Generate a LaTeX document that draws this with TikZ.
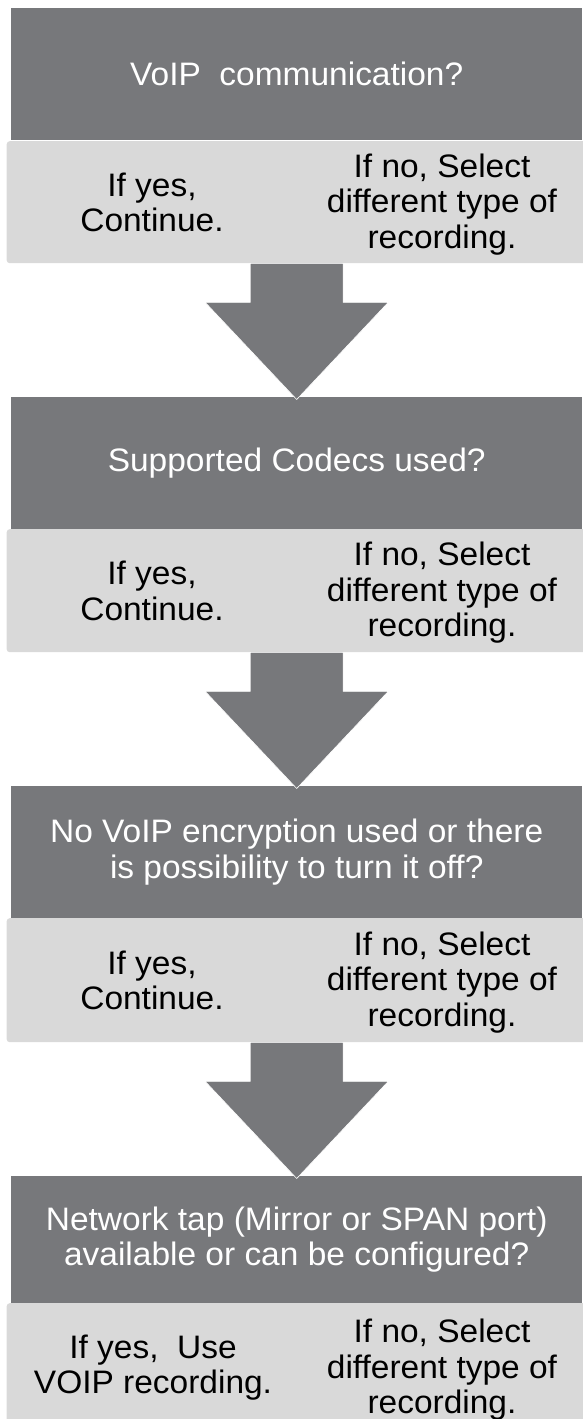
\documentclass[tikz,border=0pt]{standalone}
\usepackage{fontspec}
\setmainfont[FakeStretch=1.03]{Liberation Sans}
\usetikzlibrary{calc}
\definecolor{darkbox}{HTML}{77787B}
\definecolor{lightbox}{HTML}{D9D9D9}
\tikzset{
  question/.style={fill=darkbox, text=white, anchor=north west, minimum width=571pt,
    inner sep=0pt, align=center, font=\fontsize{32.5}{35.5}\selectfont},
  answerbar/.style={fill=lightbox, rounded corners=3pt, anchor=north west,
    minimum width=590pt, inner sep=0pt},
  answer/.style={text=black, align=center, inner sep=0pt,
    font=\fontsize{32.5}{35.5}\selectfont},
  flowarrow/.style={fill=darkbox, draw=white, line width=0.6pt, line join=miter}
}
\newcommand\flowdown[2]{%
  \filldraw[flowarrow]
    ($(#2.north |- #1.south)+(-46.5,0)$) -- ++(0,39) -- ++(-45,0)
    -- ($(#2.north)+(0,2.5)$)
    -- ($(#2.north |- #1.south)+(91.5,39)$) -- ++(-45,0)
    -- ($(#2.north |- #1.south)+(46.5,0)$) -- cycle;}
\begin{document}
\begin{tikzpicture}[x=1pt,y=-1pt]
\useasboundingbox (0,0) rectangle (582,1419);
% questions
\node[question, minimum height=132pt] (q1) at (11,8) {VoIP\ \ communication?};
\node[question, minimum height=132pt] (q2) at (11,397) {Supported Codecs used?};
\node[question, minimum height=132pt] (q3) at (11,786) {No VoIP encryption used or there\\is possibility to turn it off?};
\node[question, minimum height=127pt] (q4) at (11,1176) {Network tap (Mirror or SPAN port)\\available or can be configured?};
% answer bars
\node[answerbar, minimum height=122pt] (a1) at (6.5,141) {};
\node[answerbar, minimum height=123pt] (a2) at (6.5,529) {};
\node[answerbar, minimum height=124pt] (a3) at (6.5,918) {};
\node[answerbar, minimum height=125pt] (a4) at (6.5,1303) {};
% answers
\node[answer] (y1) at ($(a1.west)+(145.5,0)$) {If yes,\\Continue.};
\node[answer] (n1) at ($(a1.west)+(435.5,2)$) {If no, Select\\different type of\\recording.};
\node[answer] (y2) at ($(a2.west)+(145.5,0)$) {If yes,\\Continue.};
\node[answer] (n2) at ($(a2.west)+(435.5,2)$) {If no, Select\\different type of\\recording.};
\node[answer] (y3) at ($(a3.west)+(145.5,0)$) {If yes,\\Continue.};
\node[answer] (n3) at ($(a3.west)+(435.5,2)$) {If no, Select\\different type of\\recording.};
\node[answer] (y4) at ($(a4.west)+(146.5,2)$) {If yes,\ \ Use\\VOIP recording.};
\node[answer] (n4) at ($(a4.west)+(435.5,4)$) {If no, Select\\different type of\\recording.};
% arrows
\flowdown{a1}{q2}
\flowdown{a2}{q3}
\flowdown{a3}{q4}
\end{tikzpicture}
\end{document}
